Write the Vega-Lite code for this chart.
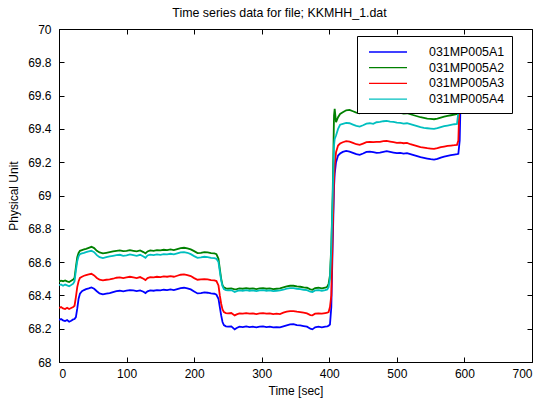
{
  "$schema": "https://vega.github.io/schema/vega-lite/v6.json",
  "autosize": {"type": "none"},
  "width": 473,
  "height": 333,
  "padding": {"left": 59, "top": 29, "right": 9, "bottom": 41},
  "background": "white",
  "config": {
    "font": "Liberation Sans",
    "view": {"stroke": "black", "strokeWidth": 1},
    "axis": {"grid": false, "domainColor": "black", "tickColor": "black", "labelColor": "black", "titleColor": "black", "labelFont": "Liberation Sans", "titleFont": "Liberation Sans", "labelFontSize": 12, "titleFontSize": 12, "titleFontWeight": "normal", "tickSize": -5, "tickWidth": 1, "domainWidth": 1}
  },
  "title": {"text": "Time series data for file; KKMHH_1.dat", "fontSize": 12.4, "fontWeight": "normal", "font": "Liberation Sans", "color": "black", "baseline": "bottom", "offset": 8, "dx": -16, "dy": 17},
  "data": {"values": [
    {"t": 0, "031MP005A1": 68.252, "031MP005A2": 68.482, "031MP005A3": 68.325, "031MP005A4": 68.462},
    {"t": 3, "031MP005A1": 68.258, "031MP005A2": 68.488, "031MP005A3": 68.330, "031MP005A4": 68.466},
    {"t": 6, "031MP005A1": 68.250, "031MP005A2": 68.485, "031MP005A3": 68.322, "031MP005A4": 68.458},
    {"t": 9, "031MP005A1": 68.246, "031MP005A2": 68.490, "031MP005A3": 68.318, "031MP005A4": 68.465},
    {"t": 12, "031MP005A1": 68.252, "031MP005A2": 68.484, "031MP005A3": 68.326, "031MP005A4": 68.460},
    {"t": 15, "031MP005A1": 68.242, "031MP005A2": 68.480, "031MP005A3": 68.318, "031MP005A4": 68.455},
    {"t": 18, "031MP005A1": 68.248, "031MP005A2": 68.488, "031MP005A3": 68.324, "031MP005A4": 68.462},
    {"t": 21, "031MP005A1": 68.256, "031MP005A2": 68.495, "031MP005A3": 68.330, "031MP005A4": 68.470},
    {"t": 23, "031MP005A1": 68.258, "031MP005A2": 68.505, "031MP005A3": 68.338, "031MP005A4": 68.485},
    {"t": 25, "031MP005A1": 68.270, "031MP005A2": 68.570, "031MP005A3": 68.390, "031MP005A4": 68.550},
    {"t": 27, "031MP005A1": 68.320, "031MP005A2": 68.630, "031MP005A3": 68.450, "031MP005A4": 68.605},
    {"t": 29, "031MP005A1": 68.380, "031MP005A2": 68.655, "031MP005A3": 68.485, "031MP005A4": 68.635},
    {"t": 31, "031MP005A1": 68.410, "031MP005A2": 68.668, "031MP005A3": 68.505, "031MP005A4": 68.648},
    {"t": 34, "031MP005A1": 68.425, "031MP005A2": 68.672, "031MP005A3": 68.512, "031MP005A4": 68.652},
    {"t": 37, "031MP005A1": 68.432, "031MP005A2": 68.676, "031MP005A3": 68.518, "031MP005A4": 68.655},
    {"t": 40, "031MP005A1": 68.438, "031MP005A2": 68.680, "031MP005A3": 68.522, "031MP005A4": 68.660},
    {"t": 44, "031MP005A1": 68.442, "031MP005A2": 68.686, "031MP005A3": 68.526, "031MP005A4": 68.664},
    {"t": 48, "031MP005A1": 68.448, "031MP005A2": 68.692, "031MP005A3": 68.530, "031MP005A4": 68.668},
    {"t": 52, "031MP005A1": 68.440, "031MP005A2": 68.684, "031MP005A3": 68.520, "031MP005A4": 68.660},
    {"t": 56, "031MP005A1": 68.425, "031MP005A2": 68.668, "031MP005A3": 68.505, "031MP005A4": 68.642},
    {"t": 60, "031MP005A1": 68.412, "031MP005A2": 68.658, "031MP005A3": 68.494, "031MP005A4": 68.630},
    {"t": 65, "031MP005A1": 68.406, "031MP005A2": 68.652, "031MP005A3": 68.490, "031MP005A4": 68.624},
    {"t": 70, "031MP005A1": 68.410, "031MP005A2": 68.656, "031MP005A3": 68.494, "031MP005A4": 68.630},
    {"t": 75, "031MP005A1": 68.414, "031MP005A2": 68.660, "031MP005A3": 68.496, "031MP005A4": 68.634},
    {"t": 80, "031MP005A1": 68.420, "031MP005A2": 68.664, "031MP005A3": 68.500, "031MP005A4": 68.638},
    {"t": 85, "031MP005A1": 68.426, "031MP005A2": 68.668, "031MP005A3": 68.506, "031MP005A4": 68.642},
    {"t": 90, "031MP005A1": 68.428, "031MP005A2": 68.670, "031MP005A3": 68.508, "031MP005A4": 68.644},
    {"t": 95, "031MP005A1": 68.424, "031MP005A2": 68.666, "031MP005A3": 68.504, "031MP005A4": 68.638},
    {"t": 100, "031MP005A1": 68.428, "031MP005A2": 68.668, "031MP005A3": 68.508, "031MP005A4": 68.640},
    {"t": 105, "031MP005A1": 68.432, "031MP005A2": 68.672, "031MP005A3": 68.512, "031MP005A4": 68.646},
    {"t": 110, "031MP005A1": 68.430, "031MP005A2": 68.668, "031MP005A3": 68.508, "031MP005A4": 68.642},
    {"t": 115, "031MP005A1": 68.426, "031MP005A2": 68.664, "031MP005A3": 68.504, "031MP005A4": 68.638},
    {"t": 120, "031MP005A1": 68.430, "031MP005A2": 68.670, "031MP005A3": 68.510, "031MP005A4": 68.644},
    {"t": 125, "031MP005A1": 68.422, "031MP005A2": 68.660, "031MP005A3": 68.500, "031MP005A4": 68.634},
    {"t": 128, "031MP005A1": 68.414, "031MP005A2": 68.652, "031MP005A3": 68.492, "031MP005A4": 68.626},
    {"t": 131, "031MP005A1": 68.424, "031MP005A2": 68.664, "031MP005A3": 68.504, "031MP005A4": 68.640},
    {"t": 135, "031MP005A1": 68.430, "031MP005A2": 68.670, "031MP005A3": 68.510, "031MP005A4": 68.645},
    {"t": 140, "031MP005A1": 68.428, "031MP005A2": 68.668, "031MP005A3": 68.508, "031MP005A4": 68.642},
    {"t": 145, "031MP005A1": 68.432, "031MP005A2": 68.672, "031MP005A3": 68.512, "031MP005A4": 68.646},
    {"t": 150, "031MP005A1": 68.430, "031MP005A2": 68.670, "031MP005A3": 68.510, "031MP005A4": 68.644},
    {"t": 155, "031MP005A1": 68.434, "031MP005A2": 68.674, "031MP005A3": 68.514, "031MP005A4": 68.648},
    {"t": 160, "031MP005A1": 68.432, "031MP005A2": 68.672, "031MP005A3": 68.512, "031MP005A4": 68.646},
    {"t": 165, "031MP005A1": 68.436, "031MP005A2": 68.676, "031MP005A3": 68.516, "031MP005A4": 68.650},
    {"t": 170, "031MP005A1": 68.432, "031MP005A2": 68.672, "031MP005A3": 68.512, "031MP005A4": 68.646},
    {"t": 175, "031MP005A1": 68.438, "031MP005A2": 68.678, "031MP005A3": 68.518, "031MP005A4": 68.652},
    {"t": 180, "031MP005A1": 68.444, "031MP005A2": 68.684, "031MP005A3": 68.524, "031MP005A4": 68.658},
    {"t": 185, "031MP005A1": 68.446, "031MP005A2": 68.686, "031MP005A3": 68.526, "031MP005A4": 68.660},
    {"t": 190, "031MP005A1": 68.442, "031MP005A2": 68.682, "031MP005A3": 68.522, "031MP005A4": 68.656},
    {"t": 195, "031MP005A1": 68.436, "031MP005A2": 68.676, "031MP005A3": 68.516, "031MP005A4": 68.648},
    {"t": 200, "031MP005A1": 68.424, "031MP005A2": 68.666, "031MP005A3": 68.504, "031MP005A4": 68.636},
    {"t": 205, "031MP005A1": 68.412, "031MP005A2": 68.654, "031MP005A3": 68.494, "031MP005A4": 68.626},
    {"t": 210, "031MP005A1": 68.414, "031MP005A2": 68.656, "031MP005A3": 68.496, "031MP005A4": 68.628},
    {"t": 215, "031MP005A1": 68.418, "031MP005A2": 68.660, "031MP005A3": 68.498, "031MP005A4": 68.632},
    {"t": 220, "031MP005A1": 68.416, "031MP005A2": 68.658, "031MP005A3": 68.496, "031MP005A4": 68.630},
    {"t": 225, "031MP005A1": 68.412, "031MP005A2": 68.654, "031MP005A3": 68.492, "031MP005A4": 68.626},
    {"t": 230, "031MP005A1": 68.410, "031MP005A2": 68.652, "031MP005A3": 68.490, "031MP005A4": 68.624},
    {"t": 233, "031MP005A1": 68.404, "031MP005A2": 68.648, "031MP005A3": 68.486, "031MP005A4": 68.620},
    {"t": 236, "031MP005A1": 68.380, "031MP005A2": 68.620, "031MP005A3": 68.460, "031MP005A4": 68.600},
    {"t": 238, "031MP005A1": 68.330, "031MP005A2": 68.560, "031MP005A3": 68.400, "031MP005A4": 68.545},
    {"t": 240, "031MP005A1": 68.280, "031MP005A2": 68.500, "031MP005A3": 68.350, "031MP005A4": 68.490},
    {"t": 242, "031MP005A1": 68.240, "031MP005A2": 68.462, "031MP005A3": 68.315, "031MP005A4": 68.455},
    {"t": 244, "031MP005A1": 68.222, "031MP005A2": 68.448, "031MP005A3": 68.300, "031MP005A4": 68.438},
    {"t": 247, "031MP005A1": 68.214, "031MP005A2": 68.442, "031MP005A3": 68.294, "031MP005A4": 68.432},
    {"t": 250, "031MP005A1": 68.212, "031MP005A2": 68.440, "031MP005A3": 68.292, "031MP005A4": 68.430},
    {"t": 255, "031MP005A1": 68.214, "031MP005A2": 68.442, "031MP005A3": 68.294, "031MP005A4": 68.432},
    {"t": 260, "031MP005A1": 68.196, "031MP005A2": 68.436, "031MP005A3": 68.280, "031MP005A4": 68.420},
    {"t": 263, "031MP005A1": 68.204, "031MP005A2": 68.438, "031MP005A3": 68.286, "031MP005A4": 68.426},
    {"t": 267, "031MP005A1": 68.212, "031MP005A2": 68.442, "031MP005A3": 68.292, "031MP005A4": 68.430},
    {"t": 272, "031MP005A1": 68.210, "031MP005A2": 68.440, "031MP005A3": 68.290, "031MP005A4": 68.428},
    {"t": 277, "031MP005A1": 68.214, "031MP005A2": 68.444, "031MP005A3": 68.294, "031MP005A4": 68.432},
    {"t": 282, "031MP005A1": 68.210, "031MP005A2": 68.440, "031MP005A3": 68.290, "031MP005A4": 68.428},
    {"t": 287, "031MP005A1": 68.212, "031MP005A2": 68.442, "031MP005A3": 68.292, "031MP005A4": 68.430},
    {"t": 292, "031MP005A1": 68.208, "031MP005A2": 68.438, "031MP005A3": 68.288, "031MP005A4": 68.426},
    {"t": 297, "031MP005A1": 68.212, "031MP005A2": 68.442, "031MP005A3": 68.292, "031MP005A4": 68.430},
    {"t": 302, "031MP005A1": 68.214, "031MP005A2": 68.444, "031MP005A3": 68.294, "031MP005A4": 68.432},
    {"t": 307, "031MP005A1": 68.210, "031MP005A2": 68.440, "031MP005A3": 68.290, "031MP005A4": 68.428},
    {"t": 312, "031MP005A1": 68.212, "031MP005A2": 68.442, "031MP005A3": 68.292, "031MP005A4": 68.430},
    {"t": 317, "031MP005A1": 68.208, "031MP005A2": 68.438, "031MP005A3": 68.288, "031MP005A4": 68.426},
    {"t": 322, "031MP005A1": 68.210, "031MP005A2": 68.440, "031MP005A3": 68.290, "031MP005A4": 68.428},
    {"t": 327, "031MP005A1": 68.208, "031MP005A2": 68.442, "031MP005A3": 68.288, "031MP005A4": 68.430},
    {"t": 332, "031MP005A1": 68.214, "031MP005A2": 68.448, "031MP005A3": 68.296, "031MP005A4": 68.434},
    {"t": 337, "031MP005A1": 68.220, "031MP005A2": 68.454, "031MP005A3": 68.302, "031MP005A4": 68.440},
    {"t": 342, "031MP005A1": 68.226, "031MP005A2": 68.458, "031MP005A3": 68.306, "031MP005A4": 68.444},
    {"t": 347, "031MP005A1": 68.228, "031MP005A2": 68.458, "031MP005A3": 68.306, "031MP005A4": 68.444},
    {"t": 352, "031MP005A1": 68.222, "031MP005A2": 68.454, "031MP005A3": 68.302, "031MP005A4": 68.440},
    {"t": 357, "031MP005A1": 68.220, "031MP005A2": 68.452, "031MP005A3": 68.300, "031MP005A4": 68.438},
    {"t": 362, "031MP005A1": 68.216, "031MP005A2": 68.448, "031MP005A3": 68.296, "031MP005A4": 68.434},
    {"t": 367, "031MP005A1": 68.212, "031MP005A2": 68.446, "031MP005A3": 68.292, "031MP005A4": 68.432},
    {"t": 372, "031MP005A1": 68.200, "031MP005A2": 68.436, "031MP005A3": 68.282, "031MP005A4": 68.422},
    {"t": 375, "031MP005A1": 68.196, "031MP005A2": 68.434, "031MP005A3": 68.280, "031MP005A4": 68.420},
    {"t": 379, "031MP005A1": 68.208, "031MP005A2": 68.444, "031MP005A3": 68.290, "031MP005A4": 68.430},
    {"t": 384, "031MP005A1": 68.212, "031MP005A2": 68.446, "031MP005A3": 68.292, "031MP005A4": 68.432},
    {"t": 389, "031MP005A1": 68.208, "031MP005A2": 68.442, "031MP005A3": 68.290, "031MP005A4": 68.428},
    {"t": 394, "031MP005A1": 68.212, "031MP005A2": 68.446, "031MP005A3": 68.294, "031MP005A4": 68.432},
    {"t": 397, "031MP005A1": 68.214, "031MP005A2": 68.452, "031MP005A3": 68.296, "031MP005A4": 68.436},
    {"t": 399, "031MP005A1": 68.218, "031MP005A2": 68.470, "031MP005A3": 68.300, "031MP005A4": 68.450},
    {"t": 401, "031MP005A1": 68.225, "031MP005A2": 68.520, "031MP005A3": 68.330, "031MP005A4": 68.500},
    {"t": 403, "031MP005A1": 68.330, "031MP005A2": 68.700, "031MP005A3": 68.400, "031MP005A4": 68.680},
    {"t": 405, "031MP005A1": 68.700, "031MP005A2": 69.000, "031MP005A3": 68.780, "031MP005A4": 68.980},
    {"t": 407, "031MP005A1": 69.050, "031MP005A2": 69.480, "031MP005A3": 69.100, "031MP005A4": 69.300},
    {"t": 408, "031MP005A1": 69.130, "031MP005A2": 69.520, "031MP005A3": 69.180, "031MP005A4": 69.340},
    {"t": 410, "031MP005A1": 69.200, "031MP005A2": 69.440, "031MP005A3": 69.260, "031MP005A4": 69.360},
    {"t": 413, "031MP005A1": 69.240, "031MP005A2": 69.470, "031MP005A3": 69.300, "031MP005A4": 69.400},
    {"t": 416, "031MP005A1": 69.252, "031MP005A2": 69.490, "031MP005A3": 69.312, "031MP005A4": 69.425},
    {"t": 420, "031MP005A1": 69.262, "031MP005A2": 69.500, "031MP005A3": 69.320, "031MP005A4": 69.430},
    {"t": 425, "031MP005A1": 69.268, "031MP005A2": 69.512, "031MP005A3": 69.326, "031MP005A4": 69.436},
    {"t": 430, "031MP005A1": 69.264, "031MP005A2": 69.514, "031MP005A3": 69.324, "031MP005A4": 69.434},
    {"t": 435, "031MP005A1": 69.256, "031MP005A2": 69.506, "031MP005A3": 69.316, "031MP005A4": 69.426},
    {"t": 440, "031MP005A1": 69.248, "031MP005A2": 69.498, "031MP005A3": 69.308, "031MP005A4": 69.418},
    {"t": 445, "031MP005A1": 69.244, "031MP005A2": 69.494, "031MP005A3": 69.304, "031MP005A4": 69.414},
    {"t": 450, "031MP005A1": 69.252, "031MP005A2": 69.500, "031MP005A3": 69.312, "031MP005A4": 69.422},
    {"t": 455, "031MP005A1": 69.262, "031MP005A2": 69.508, "031MP005A3": 69.320, "031MP005A4": 69.432},
    {"t": 460, "031MP005A1": 69.264, "031MP005A2": 69.510, "031MP005A3": 69.322, "031MP005A4": 69.434},
    {"t": 465, "031MP005A1": 69.260, "031MP005A2": 69.506, "031MP005A3": 69.320, "031MP005A4": 69.430},
    {"t": 470, "031MP005A1": 69.256, "031MP005A2": 69.500, "031MP005A3": 69.322, "031MP005A4": 69.440},
    {"t": 475, "031MP005A1": 69.258, "031MP005A2": 69.498, "031MP005A3": 69.322, "031MP005A4": 69.442},
    {"t": 480, "031MP005A1": 69.262, "031MP005A2": 69.502, "031MP005A3": 69.326, "031MP005A4": 69.446},
    {"t": 485, "031MP005A1": 69.266, "031MP005A2": 69.506, "031MP005A3": 69.328, "031MP005A4": 69.448},
    {"t": 490, "031MP005A1": 69.262, "031MP005A2": 69.504, "031MP005A3": 69.324, "031MP005A4": 69.444},
    {"t": 495, "031MP005A1": 69.258, "031MP005A2": 69.502, "031MP005A3": 69.320, "031MP005A4": 69.442},
    {"t": 500, "031MP005A1": 69.254, "031MP005A2": 69.498, "031MP005A3": 69.316, "031MP005A4": 69.438},
    {"t": 505, "031MP005A1": 69.256, "031MP005A2": 69.496, "031MP005A3": 69.318, "031MP005A4": 69.436},
    {"t": 510, "031MP005A1": 69.252, "031MP005A2": 69.492, "031MP005A3": 69.314, "031MP005A4": 69.432},
    {"t": 515, "031MP005A1": 69.254, "031MP005A2": 69.494, "031MP005A3": 69.316, "031MP005A4": 69.434},
    {"t": 520, "031MP005A1": 69.248, "031MP005A2": 69.488, "031MP005A3": 69.308, "031MP005A4": 69.428},
    {"t": 525, "031MP005A1": 69.242, "031MP005A2": 69.482, "031MP005A3": 69.302, "031MP005A4": 69.422},
    {"t": 530, "031MP005A1": 69.236, "031MP005A2": 69.476, "031MP005A3": 69.296, "031MP005A4": 69.416},
    {"t": 535, "031MP005A1": 69.230, "031MP005A2": 69.470, "031MP005A3": 69.290, "031MP005A4": 69.410},
    {"t": 540, "031MP005A1": 69.226, "031MP005A2": 69.466, "031MP005A3": 69.288, "031MP005A4": 69.406},
    {"t": 545, "031MP005A1": 69.222, "031MP005A2": 69.462, "031MP005A3": 69.284, "031MP005A4": 69.404},
    {"t": 550, "031MP005A1": 69.218, "031MP005A2": 69.460, "031MP005A3": 69.282, "031MP005A4": 69.402},
    {"t": 555, "031MP005A1": 69.216, "031MP005A2": 69.458, "031MP005A3": 69.280, "031MP005A4": 69.400},
    {"t": 560, "031MP005A1": 69.220, "031MP005A2": 69.462, "031MP005A3": 69.284, "031MP005A4": 69.404},
    {"t": 565, "031MP005A1": 69.228, "031MP005A2": 69.468, "031MP005A3": 69.290, "031MP005A4": 69.410},
    {"t": 570, "031MP005A1": 69.234, "031MP005A2": 69.474, "031MP005A3": 69.294, "031MP005A4": 69.416},
    {"t": 575, "031MP005A1": 69.238, "031MP005A2": 69.478, "031MP005A3": 69.298, "031MP005A4": 69.420},
    {"t": 580, "031MP005A1": 69.242, "031MP005A2": 69.482, "031MP005A3": 69.300, "031MP005A4": 69.424},
    {"t": 585, "031MP005A1": 69.246, "031MP005A2": 69.486, "031MP005A3": 69.302, "031MP005A4": 69.428},
    {"t": 589, "031MP005A1": 69.248, "031MP005A2": 69.490, "031MP005A3": 69.304, "031MP005A4": 69.430},
    {"t": 591, "031MP005A1": 69.250, "031MP005A2": 69.540, "031MP005A3": 69.330, "031MP005A4": 69.500},
    {"t": 593, "031MP005A1": 69.330, "031MP005A2": 69.700, "031MP005A3": 69.600, "031MP005A4": 69.700},
    {"t": 595, "031MP005A1": 69.700, "031MP005A2": 69.750, "031MP005A3": 69.750, "031MP005A4": 69.750}
  ]},
  "transform": [
    {"fold": ["031MP005A1", "031MP005A2", "031MP005A3", "031MP005A4"], "as": ["series", "value"]}
  ],
  "layer": [
    {
      "mark": {"type": "line", "strokeWidth": 1.8, "clip": true},
      "encoding": {
        "x": {"field": "t", "type": "quantitative", "scale": {"domain": [0, 700], "nice": false, "zero": false},
              "axis": {"orient": "bottom", "values": [0, 100, 200, 300, 400, 500, 600, 700], "title": "Time [sec]", "labelPadding": 11, "titlePadding": 6}},
        "y": {"field": "value", "type": "quantitative", "scale": {"domain": [68, 70], "nice": false, "zero": false},
              "axis": {"orient": "left", "values": [68, 68.2, 68.4, 68.6, 68.8, 69, 69.2, 69.4, 69.6, 69.8, 70], "format": "~g", "title": "Physical Unit", "labelPadding": 13, "titlePadding": 7}},
        "color": {"field": "series", "type": "nominal",
                  "scale": {"domain": ["031MP005A1", "031MP005A2", "031MP005A3", "031MP005A4"], "range": ["#0000ff", "#008000", "#ff0000", "#00bfbf"]},
                  "legend": {"orient": "none", "legendX": 298, "legendY": 7, "title": " ", "titleFontSize": 1, "titlePadding": 2, "symbolType": "stroke", "symbolSize": 1444, "symbolStrokeWidth": 1.3, "clipHeight": 12, "labelFontSize": 12.4, "labelFont": "Liberation Sans", "labelColor": "black", "labelOffset": 21, "symbolOffset": 4, "padding": 7, "rowPadding": 2.7, "strokeColor": "black", "fillColor": "white"}}
      }
    },
    {
      "mark": {"type": "line", "opacity": 0},
      "encoding": {
        "x": {"field": "t", "type": "quantitative", "axis": {"orient": "top", "values": [0, 100, 200, 300, 400, 500, 600, 700], "labels": false, "title": null, "domain": false}},
        "y": {"field": "value", "type": "quantitative", "axis": {"orient": "right", "values": [68, 68.2, 68.4, 68.6, 68.8, 69, 69.2, 69.4, 69.6, 69.8, 70], "labels": false, "title": null, "domain": false}}
      }
    }
  ],
  "resolve": {"axis": {"x": "independent", "y": "independent"}}
}
